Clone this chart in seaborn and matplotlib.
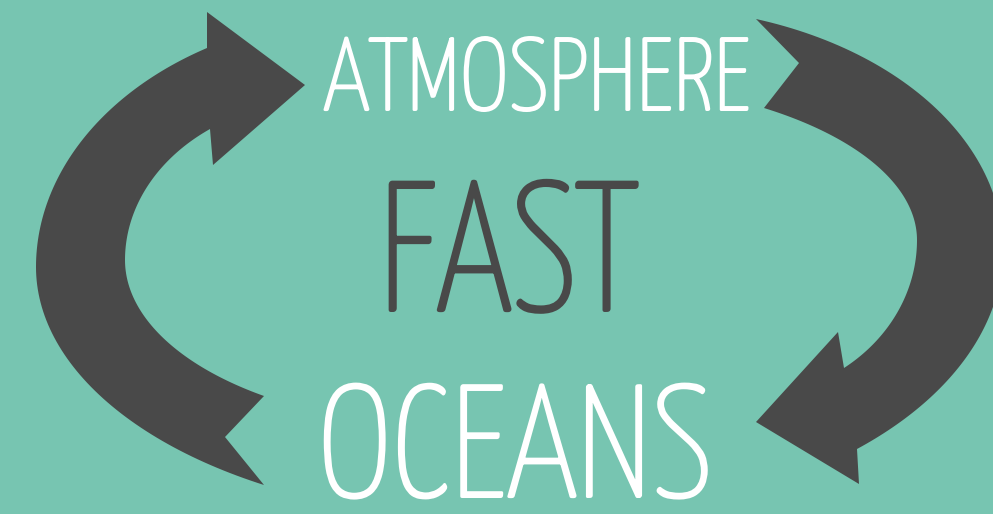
import numpy as np
import matplotlib
matplotlib.use("Agg")
import matplotlib.pyplot as plt
import matplotlib.patheffects as pe
from matplotlib.transforms import Affine2D
from matplotlib.textpath import TextPath
from matplotlib.font_manager import FontProperties
import seaborn as sns

# words of the cycle, top to bottom
words = ["ATMOSPHERE", "FAST", "OCEANS"]

BG = "#77c5b1"
DARK = "#494949"
W, H, DPI = 993, 514, 100
FONT = ["Yanone Kaffeesatz", "DejaVu Sans"]

# box each word has to fill (x0, x1, top, baseline) in pixels, colour, weight, extra stroke px
word_boxes = {
    "ATMOSPHERE": (325, 750, 35, 111, "white", 400, 2.5),
    "FAST": (383, 633, 177, 312, DARK, 400, 4.0),
    "OCEANS": (323, 707, 381, 498, "white", 400, 3.0),
}

# arrow edges: (end point, extreme point, sweep angle of the end in degrees)
left_arrow = dict(
    outer_top=((207, 48), (36, 267), 60), outer_bot=((264, 485), (36, 267), 60),
    inner_top=((210, 129), (125, 260), 55), inner_bot=((264, 396), (125, 260), 55),
    head=[(207, 12), (305, 85), (213, 165)], notch=(225, 437))
right_arrow = dict(
    outer_top=((756, 19), (1003, 250), 72), outer_bot=((857, 449), (1003, 250), 49),
    inner_top=((764, 108), (917, 240), 56), inner_bot=((844, 368), (917, 240), 54),
    head=[(859, 484), (756, 422), (838, 332)], notch=(799, 63))


def edge(spec, n=60):
    """elliptic arc from the extreme (left/right-most) point to the end point"""
    (ex, ey), (xx, ym), phi_e = spec
    phi_e = np.radians(phi_e)
    rx = (ex - xx) / (1 - np.cos(phi_e))
    ry = (ey - ym) / np.sin(phi_e)
    phi = np.linspace(0, phi_e, n)
    return np.column_stack([xx + rx * (1 - np.cos(phi)), ym + ry * np.sin(phi)])


def left_outline(a):
    ob, ot = edge(a["outer_bot"]), edge(a["outer_top"])
    it, ib = edge(a["inner_top"]), edge(a["inner_bot"])
    return np.vstack([ob[::-1], ot, a["head"], it[::-1], ib, [a["notch"]]])


def right_outline(a):
    ot, ob = edge(a["outer_top"]), edge(a["outer_bot"])
    ib, it = edge(a["inner_bot"]), edge(a["inner_top"])
    return np.vstack([ot[::-1], ob, a["head"], ib[::-1], it, [a["notch"]]])


class StretchX(pe.AbstractPathEffect):
    """squeeze the glyphs horizontally about x0 and fatten them with a round stroke"""

    def __init__(self, sx, x0, lw_px):
        super().__init__()
        self.sx, self.x0, self.lw = sx, x0, lw_px * 72 / DPI

    def draw_path(self, renderer, gc, tpath, affine, rgbFace=None):
        t = affine + Affine2D().translate(-self.x0, 0).scale(self.sx, 1).translate(self.x0, 0)
        gc0 = renderer.new_gc()
        gc0.copy_properties(gc)
        gc0.set_linewidth(self.lw)
        gc0.set_foreground(rgbFace)
        gc0.set_joinstyle("round")
        gc0.set_capstyle("round")
        renderer.draw_path(gc0, tpath, t, rgbFace)
        gc0.restore()


sns.set_theme(style="white")
plt.rcParams["font.family"] = FONT

fig = plt.figure(figsize=(W / DPI, H / DPI), dpi=DPI)
fig.patch.set_facecolor(BG)
ax = fig.add_axes([0, 0, 1, 1])
ax.set_facecolor(BG)
ax.set_xlim(0, W)
ax.set_ylim(H, 0)
ax.axis("off")

for outline in (left_outline(left_arrow), right_outline(right_arrow)):
    ax.fill(outline[:, 0], outline[:, 1], color=DARK, lw=0)

for w in words:
    x0, x1, top, base, col, wt, lw = word_boxes[w]
    fp = FontProperties(family=FONT, weight=wt)
    ext = TextPath((0, 0), w, size=100, prop=fp).get_extents()
    cap = base - top - lw
    fs = cap * 100 / ext.height * 72 / DPI
    ink_w = ext.width * cap / ext.height
    xc = (x0 + x1) / 2
    ax.text(xc, base - lw / 2, w, color=col, fontsize=fs, family=FONT, weight=wt,
            ha="center", va="baseline",
            path_effects=[StretchX((x1 - x0 - lw) / ink_w, xc, lw)])

fig.savefig("out.png", dpi=DPI, facecolor=BG)
